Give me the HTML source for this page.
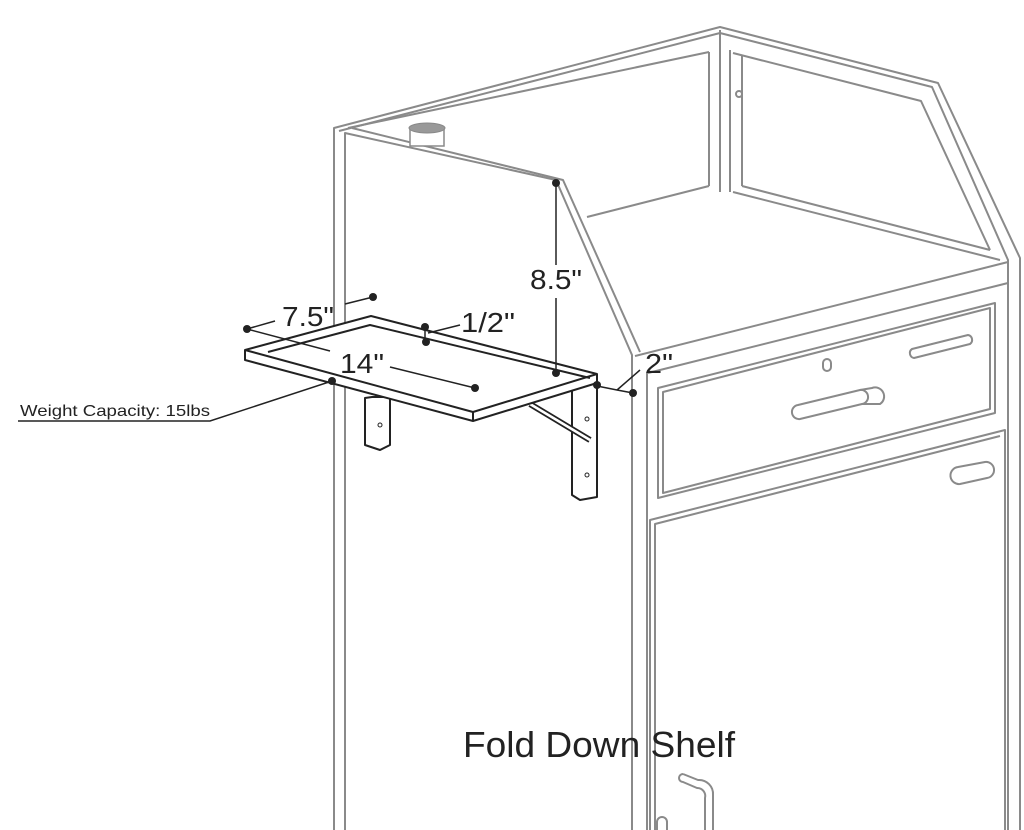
<!DOCTYPE html>
<html><head><meta charset="utf-8"><style>
html,body{margin:0;padding:0;background:#fff;}
svg{display:block;}
text{font-family:"Liberation Sans",sans-serif;fill:#222;}
</style></head><body>
<svg width="1024" height="830" viewBox="0 0 1024 830" xmlns="http://www.w3.org/2000/svg">
<g fill="none" stroke="#8a8a8a" stroke-width="2" stroke-linejoin="round">
<!-- top frame outer -->
<polyline points="334,830 334,128 720,27 938,83 1020,258 1020,830"/>
<polyline points="339,131 720,33 932,87 1008,260 1008,830"/>
<!-- inner top-left line -->
<line x1="348" y1="128" x2="709" y2="52"/>
<!-- front sloped edge -->
<polyline points="345,830 345,133 556,180 632,355 632,830"/>
<polyline points="352,128 563,180 640,352"/>
<line x1="647" y1="372" x2="647" y2="830"/>
<!-- back panel verticals -->
<line x1="709" y1="52" x2="709" y2="186"/>
<line x1="720" y1="30" x2="720" y2="192"/>
<line x1="730" y1="50" x2="730" y2="192"/>
<line x1="742" y1="55" x2="742" y2="186"/>
<!-- right panel inner -->
<polyline points="733,53 921,101 990,250"/>
<polyline points="742,186 990,250"/>
<polyline points="733,192 1000,260"/>
<!-- desk back edge -->
<line x1="587" y1="217" x2="709" y2="186"/>
<!-- front face top -->
<line x1="635" y1="356" x2="1008" y2="262"/>
<line x1="648" y1="373" x2="1008" y2="283"/>
<!-- drawer -->
<polygon points="658,388 995,303 995,413 658,498"/>
<polygon points="663,392 990,308 990,409 663,493"/>
<!-- door -->
<polyline points="650,830 650,520 1005,430 1005,830"/>
<polyline points="655,830 655,524 1000,436"/>
<!-- drawer handles -->
<path d="M798,405 L860,390 A7,7 0 0 1 862,404 L800,419 A7,7 0 0 1 798,405 Z"/>
<path d="M860,390 L872,388 A9,9 0 0 1 880,404 L862,404"/>
<path d="M912,349 L968,335 A5,5 0 0 1 970,344 L914,358 A5,5 0 0 1 912,349 Z"/>
<rect x="823" y="359" width="8" height="12" rx="4"/>
<path d="M958,467 L985,462 A8,8 0 0 1 987,478 L960,484 A8,8 0 0 1 958,467 Z"/>
<circle cx="739" cy="94" r="3"/>
<!-- door handle bottom -->
<path d="M683,774 L698,780 A14,14 0 0 1 713,795 L713,830"/>
<path d="M705,830 L705,798 A8,8 0 0 0 697,788 L683,782 A4,4 0 0 1 683,774"/>
<path d="M657,830 L657,822 A5,5 0 0 1 667,822 L667,830"/>
</g>
<!-- pole -->
<path d="M410,128 L410,146 L444,146 L444,128" fill="#fff" stroke="#8a8a8a" stroke-width="1.5"/>
<ellipse cx="427" cy="128" rx="18" ry="5" fill="#999" stroke="#888"/>
<!-- shelf -->
<g fill="#fff" stroke="#222" stroke-width="2" stroke-linejoin="round">
<polygon points="372,397 390,397 390,445 380,450 365,445 365,398"/>
<polygon points="572,385 597,383 597,497 580,500 572,495"/>
<line x1="530" y1="404" x2="590" y2="440" stroke-width="6"/>
<line x1="530" y1="404" x2="590" y2="440" stroke="#fff" stroke-width="2.5"/>
<polygon points="245,350 371,316 597,374 597,383 473,421 245,360"/>
<polyline points="245,350 473,412 597,374" fill="none"/>
<line x1="473" y1="412" x2="473" y2="421"/>
<polyline points="268,352 370,325 590,378" fill="none"/>
</g>
<circle cx="380" cy="425" r="2" fill="none" stroke="#222"/>
<circle cx="587" cy="419" r="2" fill="none" stroke="#222"/>
<circle cx="587" cy="475" r="2" fill="none" stroke="#222"/>
<!-- dimension lines -->
<g stroke="#222" stroke-width="1.5" fill="none">
<line x1="247" y1="329" x2="275" y2="321"/>
<line x1="345" y1="304" x2="373" y2="297"/>
<line x1="247" y1="329" x2="330" y2="351"/>
<line x1="390" y1="367" x2="475" y2="388"/>
<line x1="425" y1="328" x2="425" y2="342"/>
<line x1="428" y1="333" x2="460" y2="325"/>
<line x1="556" y1="184" x2="556" y2="265"/>
<line x1="556" y1="298" x2="556" y2="373"/>
<polyline points="597,386 617,390 633,393"/>
<line x1="617" y1="390" x2="640" y2="370"/>
<polyline points="332,381 210,421 18,421"/>
</g>
<g fill="#222">
<circle cx="247" cy="329" r="4"/><circle cx="373" cy="297" r="4"/>
<circle cx="475" cy="388" r="4"/><circle cx="425" cy="327" r="4"/>
<circle cx="426" cy="342" r="4"/><circle cx="556" cy="183" r="4"/>
<circle cx="556" cy="373" r="4"/><circle cx="597" cy="385" r="4"/>
<circle cx="633" cy="393" r="4"/><circle cx="332" cy="381" r="4"/>
</g>
<text x="282" y="326" font-size="28" textLength="52" lengthAdjust="spacingAndGlyphs">7.5"</text>
<text x="340" y="373" font-size="28" textLength="44" lengthAdjust="spacingAndGlyphs">14"</text>
<text x="461" y="332" font-size="28" textLength="54" lengthAdjust="spacingAndGlyphs">1/2"</text>
<text x="530" y="289" font-size="28" textLength="52" lengthAdjust="spacingAndGlyphs">8.5"</text>
<text x="645" y="373" font-size="28" textLength="28" lengthAdjust="spacingAndGlyphs">2"</text>
<text x="20" y="416" font-size="16" textLength="190" lengthAdjust="spacingAndGlyphs">Weight Capacity: 15lbs</text>
<text x="463" y="757" font-size="36" textLength="272" lengthAdjust="spacingAndGlyphs">Fold Down Shelf</text>
</svg>
</body></html>
